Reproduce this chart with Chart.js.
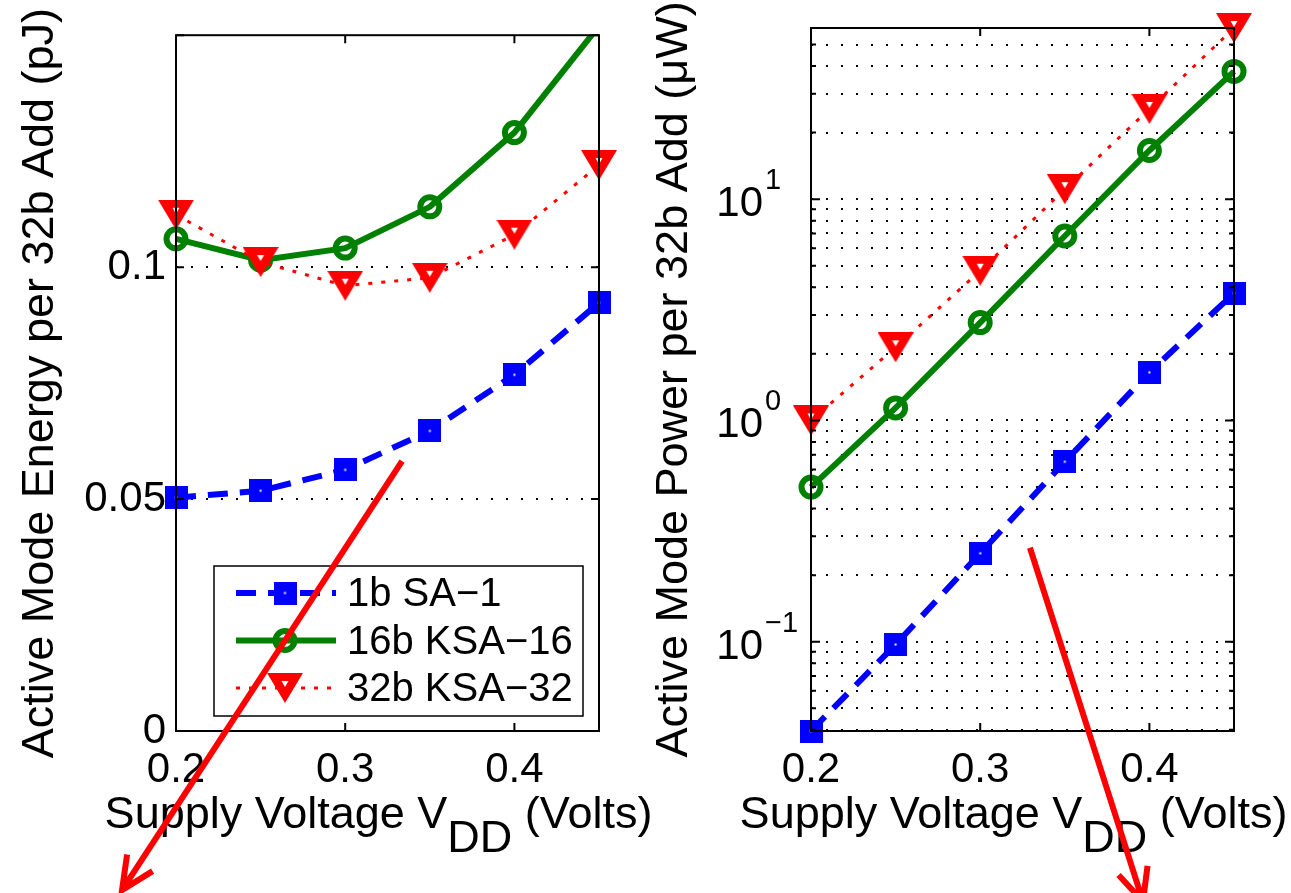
<!DOCTYPE html>
<html>
<head>
<meta charset="utf-8">
<script src="https://cdn.jsdelivr.net/npm/chart.js@4.4.1/dist/chart.umd.min.js"></script>
<style>
  body { margin: 0; background: #fff; }
  #wrap { position: relative; width: 1291px; height: 893px; }
  canvas { position: absolute; top: 0; }
</style>
</head>
<body>
<div id="wrap">
  <!-- left canvas is wider than its half so the x title can run past it; the right canvas is transparent -->
  <canvas id="energy" width="700" height="893" style="left:0"></canvas>
  <canvas id="power" width="646" height="893" style="left:645px"></canvas>
</div>
<script>
const FONT = '"Liberation Sans", Arial, Helvetica, sans-serif'
Chart.defaults.font.family = FONT
Chart.defaults.color = '#000'
Chart.defaults.animation = false

// --- data ---
const voltage = [0.2, 0.25, 0.3, 0.35, 0.4, 0.45]
const seriesNames = ['1b SA\u22121', '16b KSA\u221216', '32b KSA\u221232']

// active mode energy per 32b add (pJ)
const energySA1 = [0.0503, 0.0518, 0.0563, 0.0647, 0.0768, 0.0923]
const energyKSA16 = [0.1061, 0.1015, 0.1041, 0.1130, 0.1290, 0.152]
const energyKSA32 = [0.1113, 0.1011, 0.0960, 0.0977, 0.1070, 0.1220]

// active mode power per 32b add (uW)
const powerSA1 = [0.0395, 0.0972, 0.251, 0.651, 1.65, 3.76]
const powerKSA16 = [0.5, 1.14, 2.77, 6.82, 16.6, 37.8]
const powerKSA32 = [1.0, 2.14, 4.75, 11.1, 25.6, 59.4]

// ticks
const voltTicks = [0.2, 0.3, 0.4]
const energyTicks = [0, 0.05, 0.1, 0.15]
const energyTickLabels = ['0', '0.05', '0.1', '']
const powerDecades = [0.1, 1, 10]
const powerExponents = ['\u22121', '0', '1']

// red annotation arrows, in data units of each panel
const energyArrow = { from: [0.3336, 0.0582], to: [0.1681, -0.0343] }
const powerArrow = { from: [0.3294, 0.266], to: [0.3962, 0.0067] }

// matlab style markers: filled square / filled down-triangle with a small hole
const squareMarker = (() => {
  const c = document.createElement('canvas')
  c.width = c.height = 23
  const g = c.getContext('2d')
  g.fillStyle = '#0000ff'
  g.fillRect(0, 0, 23, 23)
  g.fillStyle = '#fff'
  g.fillRect(10.5, 10.5, 2, 2)
  return c
})()

const triangleMarker = (() => {
  const c = document.createElement('canvas')
  c.width = 36
  c.height = 30
  const g = c.getContext('2d')
  g.fillStyle = '#ff0000'
  g.beginPath()
  g.moveTo(0, 0); g.lineTo(36, 0); g.lineTo(18, 30)
  g.closePath()
  g.fill()
  g.fillStyle = '#fff'
  g.beginPath()
  g.moveTo(14.5, 8); g.lineTo(21.5, 8); g.lineTo(18, 14)
  g.closePath()
  g.fill()
  return c
})()

// line / marker styles
const styles = [
  { color: '#0000ff', dash: [20, 12], width: 6, point: squareMarker, radius: 12, pointBorder: 0, fill: '#0000ff' },
  { color: '#008000', dash: [], width: 6, point: 'circle', radius: 9.5, pointBorder: 6, fill: 'rgba(0,0,0,0)' },
  { color: '#ff0000', dash: [4, 9], width: 3, point: triangleMarker, radius: 16, pointBorder: 0, fill: '#ff0000' },
]

const makeDatasets = (series, yMax) =>
  series.map((vals, i) => {
    const s = styles[i]
    const over = vals.some(v => v > yMax)
    return {
      label: seriesNames[i],
      data: voltage.map((x, j) => ({ x, y: vals[j] })),
      borderColor: s.color,
      borderWidth: s.width,
      borderDash: s.dash,
      pointStyle: s.point,
      pointRadius: c => (c.raw && c.raw.y > yMax ? 0 : s.radius),
      pointBorderWidth: s.pointBorder,
      pointBorderColor: s.color,
      pointBackgroundColor: s.fill,
      order: 3 - i,
      clip: over ? { left: 40, right: 40, top: 0, bottom: 40 } : false,
    }
  })

const drawMarker = (ctx, s, x, y) => {
  if (typeof s.point === 'object') {
    ctx.drawImage(s.point, x - s.point.width / 2, y - s.point.height / 2)
    return
  }
  ctx.save()
  ctx.lineWidth = s.pointBorder
  ctx.strokeStyle = s.color
  ctx.fillStyle = s.fill
  ctx.beginPath()
  ctx.arc(x, y, s.radius, 0, Math.PI * 2)
  ctx.fill()
  ctx.stroke()
  ctx.restore()
}

const drawFrame = (chart, yTicks) => {
  const { ctx, chartArea: ca, scales: { x, y } } = chart
  ctx.save()
  ctx.strokeStyle = '#000'
  ctx.lineWidth = 2
  ctx.strokeRect(ca.left, ca.top, ca.width, ca.height)
  ctx.beginPath()
  voltTicks.forEach(v => {
    const px = x.getPixelForValue(v)
    ctx.moveTo(px, ca.bottom); ctx.lineTo(px, ca.bottom - 8)
    ctx.moveTo(px, ca.top); ctx.lineTo(px, ca.top + 8)
  })
  yTicks.forEach(([v, len]) => {
    const py = y.getPixelForValue(v)
    ctx.moveTo(ca.left, py); ctx.lineTo(ca.left + len, py)
    ctx.moveTo(ca.right, py); ctx.lineTo(ca.right - len, py)
  })
  ctx.stroke()
  ctx.restore()
}

const drawXTitle = chart => {
  const { ctx, chartArea: ca } = chart
  ctx.save()
  ctx.font = `45px ${FONT}`
  ctx.fillStyle = '#000'
  ctx.textAlign = 'left'
  ctx.textBaseline = 'alphabetic'
  const parts = [['Supply Voltage V', 0], ['DD', 24], [' (Volts)', 0]]
  const total = parts.reduce((a, [t]) => a + ctx.measureText(t).width, 0)
  let x = (ca.left + ca.right) / 2 - 9 - total / 2
  const base = ca.bottom + 97
  parts.forEach(([t, dy]) => {
    ctx.fillText(t, x, base + dy)
    x += ctx.measureText(t).width
  })
  ctx.restore()
}

const drawLegend = chart => {
  const { ctx, chartArea: ca } = chart
  const w = 369, h = 150
  const left = ca.right - 16 - w
  const top = ca.bottom - 15 - h
  ctx.save()
  ctx.fillStyle = '#fff'
  ctx.fillRect(left, top, w, h)
  ctx.strokeStyle = '#000'
  ctx.lineWidth = 1.5
  ctx.strokeRect(left, top, w, h)
  styles.forEach((s, i) => {
    const cy = top + 27 + i * 47.5
    ctx.save()
    ctx.strokeStyle = s.color
    ctx.lineWidth = s.width
    ctx.setLineDash(s.dash)
    ctx.beginPath()
    ctx.moveTo(left + 22, cy)
    ctx.lineTo(left + 122, cy)
    ctx.stroke()
    ctx.restore()
    drawMarker(ctx, s, left + 71, cy)
    ctx.fillStyle = '#000'
    ctx.font = `40px ${FONT}`
    ctx.textBaseline = 'middle'
    ctx.fillText(seriesNames[i], left + 133, cy + 2)
  })
  ctx.restore()
}

const drawArrow = (chart, arrow) => {
  const { ctx, scales: { x, y } } = chart
  const x0 = x.getPixelForValue(arrow.from[0]), y0 = y.getPixelForValue(arrow.from[1])
  const x1 = x.getPixelForValue(arrow.to[0]), y1 = y.getPixelForValue(arrow.to[1])
  const ang = Math.atan2(y0 - y1, x0 - x1)
  const head = 36, spread = 25 * Math.PI / 180
  ctx.save()
  ctx.strokeStyle = '#ff0000'
  ctx.lineWidth = 6
  ctx.beginPath()
  ctx.moveTo(x0, y0); ctx.lineTo(x1, y1)
  ctx.moveTo(x1 + head * Math.cos(ang - spread), y1 + head * Math.sin(ang - spread))
  ctx.lineTo(x1, y1)
  ctx.lineTo(x1 + head * Math.cos(ang + spread), y1 + head * Math.sin(ang + spread))
  ctx.stroke()
  ctx.restore()
}

const xScale = {
  type: 'linear',
  min: 0.2,
  max: 0.45,
  afterBuildTicks: s => { s.ticks = voltTicks.map(value => ({ value })) },
  afterFit: s => { s.height = 162 },
  grid: { display: false },
  border: { display: false },
  ticks: {
    font: { size: 42 },
    padding: 6,
    maxRotation: 0,
    autoSkip: false,
    callback: v => v.toFixed(1),
  },
}

const dotted = { display: false, dash: [2, 13] }

// --- left panel: energy ---
new Chart(document.getElementById('energy'), {
  type: 'line',
  data: { datasets: makeDatasets([energySA1, energyKSA16, energyKSA32], 0.15) },
  options: {
    responsive: false,
    layout: { padding: { left: 0, right: 101, top: 28, bottom: 0 } },
    plugins: { legend: { display: false }, tooltip: { enabled: false } },
    scales: {
      x: xScale,
      y: {
        type: 'linear',
        min: 0,
        max: 0.15,
        afterBuildTicks: s => { s.ticks = energyTicks.map(value => ({ value })) },
        afterFit: s => { s.width = 176 },
        grid: {
          drawTicks: false,
          lineWidth: 2,
          color: c => (c.tick && c.tick.value > 0 && c.tick.value < 0.15 ? '#000' : 'rgba(0,0,0,0)'),
        },
        border: dotted,
        ticks: {
          font: { size: 42 },
          padding: 10,
          callback: (v, i) => energyTickLabels[i],
        },
        title: {
          display: true,
          text: 'Active Mode Energy per 32b Add (pJ)',
          font: { size: 45 },
          padding: { top: 14, bottom: 0 },
        },
      },
    },
  },
  plugins: [{
    id: 'decor',
    afterDraw: chart => {
      drawFrame(chart, energyTicks.map(v => [v, 8]))
      drawXTitle(chart)
      drawLegend(chart)
      drawArrow(chart, energyArrow)
    },
  }],
})

// --- right panel: power (log) ---
const powerMin = Math.min(...powerSA1)
const powerMax = Math.max(...powerKSA32)
const powerGrid = []
powerDecades.concat([0.01]).forEach(d => {
  for (let k = 1; k <= 9; k++) {
    const v = d * k
    if (v > powerMin && v < powerMax) powerGrid.push(v)
  }
})
powerGrid.sort((a, b) => a - b)
const isDecade = v => powerDecades.some(d => Math.abs(v - d) < 1e-9)

new Chart(document.getElementById('power'), {
  type: 'line',
  data: { datasets: makeDatasets([powerSA1, powerKSA16, powerKSA32], powerMax) },
  options: {
    responsive: false,
    layout: { padding: { left: 0, right: 57, top: 28, bottom: 0 } },
    plugins: { legend: { display: false }, tooltip: { enabled: false } },
    scales: {
      x: xScale,
      y: {
        type: 'logarithmic',
        min: powerMin,
        max: powerMax,
        afterBuildTicks: s => { s.ticks = powerGrid.map(value => ({ value })) },
        afterFit: s => { s.width = 166 },
        grid: { drawTicks: false, lineWidth: 2, color: '#000' },
        border: dotted,
        ticks: { display: false },
        title: {
          display: true,
          text: 'Active Mode Power per 32b Add (\u03bcW)',
          font: { size: 45 },
          padding: { top: 3, bottom: 0 },
        },
      },
    },
  },
  plugins: [{
    id: 'decor',
    afterDraw: chart => {
      const { ctx, chartArea: ca, scales: { y } } = chart
      drawFrame(chart, powerGrid.map(v => [v, isDecade(v) ? 9 : 5]))
      ctx.save()
      ctx.fillStyle = '#000'
      ctx.textBaseline = 'alphabetic'
      powerDecades.forEach((d, i) => {
        const py = y.getPixelForValue(d)
        ctx.font = `42px ${FONT}`
        ctx.textAlign = 'right'
        ctx.fillText('10', ca.left - 48, py + 17)
        ctx.font = `29px ${FONT}`
        ctx.textAlign = 'left'
        ctx.fillText(powerExponents[i], ca.left - 46, py - 10)
      })
      ctx.restore()
      drawXTitle(chart)
      drawArrow(chart, powerArrow)
    },
  }],
})
</script>
</body>
</html>
